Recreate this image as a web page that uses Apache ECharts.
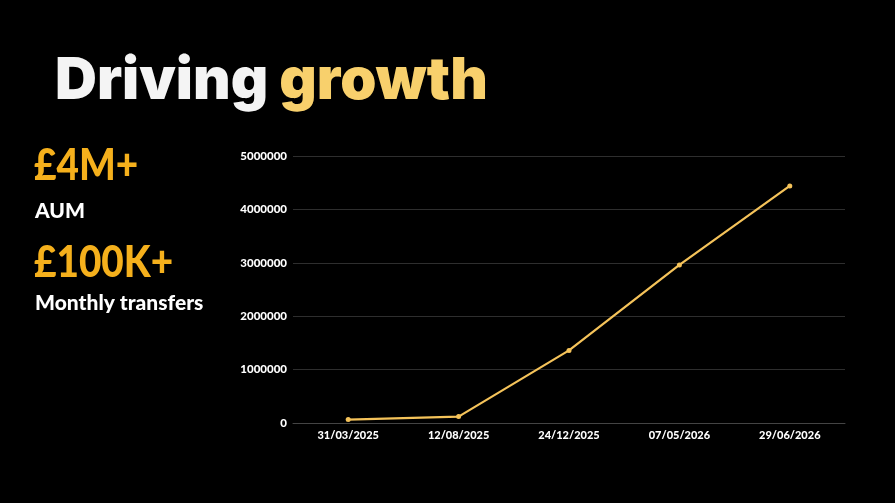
<!DOCTYPE html>
<html>
<head>
<meta charset="utf-8">
<script src="https://cdn.jsdelivr.net/npm/echarts@6/dist/echarts.min.js"></script>
<style>
html, body { margin: 0; padding: 0; background: #000; }
#chart { width: 895px; height: 503px; }
</style>
</head>
<body>
<div id="chart"></div>
<script>
/*----- data -----*/
var dateList = ['31/03/2025', '12/08/2025', '24/12/2025', '07/05/2026', '29/06/2026'];
var aumList = [65000, 120000, 1360000, 2960000, 4440000];
var yTicks = [0, 1000000, 2000000, 3000000, 4000000, 5000000];

var font = 'Lato';
var lineColor = '#f5c35a';

var option = {
    backgroundColor: '#000000',
    animation: false,
    title: {
        left: 50,
        top: 48,
        text: '{a|Driving}{b|growth}',
        textStyle: {
            rich: {
                a: { color: '#f4f4f4', fontFamily: 'Inter', fontWeight: 900, fontSize: 58 },
                b: { color: '#f8d06c', fontFamily: 'Inter', fontWeight: 900, fontSize: 58, padding: [0, 0, 0, 11] }
            }
        }
    },
    graphic: [
        { type: 'text', left: 34, top: 145, scaleX: 0.9, style: { text: '£4M+', fill: '#f5b01c', font: '900 43px ' + font } },
        { type: 'text', left: 35, top: 201, style: { text: 'AUM', fill: '#ffffff', font: '900 21px ' + font } },
        { type: 'text', left: 34, top: 242, scaleX: 0.9, style: { text: '£100K+', fill: '#f5b01c', font: '900 43px ' + font } },
        { type: 'text', left: 35, top: 293, style: { text: 'Monthly transfers', fill: '#ffffff', font: '900 21px ' + font } }
    ],
    grid: {
        left: 293,
        right: 50,
        top: 156,
        bottom: 80
    },
    xAxis: {
        type: 'category',
        data: dateList,
        axisTick: { show: false },
        axisLine: { lineStyle: { color: '#444444' } },
        axisLabel: {
            color: '#ffffff',
            fontFamily: font,
            fontWeight: 900,
            fontSize: 11,
            margin: 7
        }
    },
    yAxis: {
        type: 'value',
        min: yTicks[0],
        max: yTicks[yTicks.length - 1],
        interval: 1000000,
        axisLabel: {
            color: '#ffffff',
            fontFamily: font,
            fontWeight: 900,
            fontSize: 11.5,
            margin: 6,
            formatter: function (v) { return String(v); }
        },
        splitLine: { lineStyle: { color: '#2e2e2e' } }
    },
    series: [
        {
            name: 'AUM',
            type: 'line',
            data: aumList,
            symbol: 'circle',
            symbolSize: 5,
            lineStyle: { color: lineColor, width: 2.2 },
            itemStyle: { color: lineColor }
        }
    ]
};
echarts.init(document.getElementById('chart')).setOption(option, true);
</script>
</body>
</html>
